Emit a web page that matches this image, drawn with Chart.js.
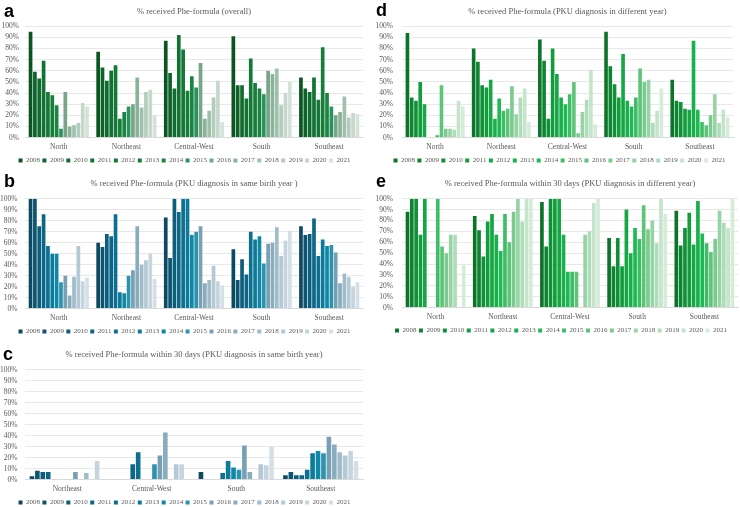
<!DOCTYPE html>
<html>
<head>
<meta charset="utf-8">
<script src="https://cdn.jsdelivr.net/npm/chart.js@4.4.1/dist/chart.umd.min.js"></script>
<style>
  body { margin: 0; background: #fff; width: 740px; height: 507px; position: relative; overflow: hidden; }
  canvas { position: absolute; }
  .tag { position: absolute; font: bold 18px 'Liberation Sans', Arial, sans-serif; line-height: 18px; color: #000; }
</style>
</head>
<body>
<canvas id="pa" width="370" height="174" style="left:0;top:0"></canvas>
<canvas id="pb" width="370" height="177" style="left:0;top:168px"></canvas>
<canvas id="pc" width="370" height="178" style="left:0;top:338px"></canvas>
<canvas id="pd" width="370" height="174" style="left:370px;top:0"></canvas>
<canvas id="pe" width="370" height="176" style="left:370px;top:168px"></canvas>
<div class="tag" style="left:4px;top:2px">a</div>
<div class="tag" style="left:4px;top:172px">b</div>
<div class="tag" style="left:3px;top:345px">c</div>
<div class="tag" style="left:376px;top:1px">d</div>
<div class="tag" style="left:376px;top:172px">e</div>
<script>
var years = ['2008', '2009', '2010', '2011', '2012', '2013', '2014', '2015', '2016', '2017', '2018', '2019', '2020', '2021'];
var regions = ['North', 'Northeast', 'Central-West', 'South', 'Southeast'];
var regionsC = ['Northeast', 'Central-West', 'South', 'Southeast'];

// one row per region, one value per year (%)
var overall = [
  [95, 59, 53, 69, 41, 38, 29, 8, 41, 10, 11, 13, 31, 28],
  [77, 63, 51, 60, 65, 17, 23, 28, 30, 54, 27, 41, 43, 20],
  [87, 58, 44, 92, 79, 42, 55, 45, 67, 17, 24, 36, 51, 14],
  [91, 47, 47, 35, 71, 49, 44, 39, 60, 57, 62, 29, 40, 50],
  [54, 44, 41, 54, 34, 81, 40, 28, 20, 23, 37, 18, 22, 21]
];
var sameYear = [
  [100, 100, 75, 86, 57, 50, 50, 24, 30, 12, 29, 57, 25, 28],
  [60, 56, 68, 66, 86, 15, 14, 30, 35, 75, 40, 44, 50, 27],
  [83, 46, 100, 88, 100, 100, 67, 70, 75, 23, 26, 39, 25, 21],
  [54, 26, 45, 31, 70, 63, 66, 41, 59, 60, 74, 48, 62, 71],
  [75, 67, 68, 82, 48, 63, 57, 58, 51, 23, 32, 29, 20, 24]
];
var sameYear30 = [
  [3, 8, 7, 7, null, null, null, null, 7, null, 6, null, 17, null],
  [null, null, null, 14, 25, null, null, 14, 22, 43, null, 14, 14, null],
  [7, null, null, null, 6, 17, 11, 9, 31, 7, null, 14, 13, 30],
  [4, 7, 4, 4, 9, 24, 26, 24, 39, 32, 25, 22, 26, 17]
];
var diffYear = [
  [94, 36, 33, 50, 30, null, null, 2, 47, 8, 8, 7, 33, 28],
  [80, 68, 47, 45, 52, 17, 35, 24, 26, 46, 21, 36, 44, 14],
  [88, 69, 17, 80, 57, 36, 30, 39, 50, 4, 23, 34, 61, 12],
  [95, 64, 48, 36, 75, 33, 28, 36, 62, 50, 52, 13, 24, 44],
  [52, 33, 32, 26, 25, 87, 25, 14, 11, 20, 39, 13, 25, 18]
];
var diffYear30 = [
  [88, 100, 100, 67, 100, null, null, 100, 56, 50, 67, 67, null, 39],
  [84, 71, 47, 79, 86, 67, 52, 86, 60, 88, 100, 79, 100, 100],
  [97, 56, 100, 100, 100, 67, 33, 33, 33, null, 67, 70, 96, 100],
  [64, 38, 64, 38, 90, 50, 73, 63, 94, 72, 80, 59, 100, 86],
  [89, 57, 73, 87, 58, 98, 68, 59, 51, 63, 89, 78, 73, 100]
];

var darkGreens = ['#0a5522', '#0d632a', '#106b2f', '#127233', '#147836', '#167d3a', '#1a8540', '#2a9160',
  '#76a587', '#8bb399', '#a0c0ab', '#b3cdbc', '#c5d8cb', '#d5e2d9'];
var blues = ['#0c4a61', '#0c5570', '#0c5e7c', '#0c6786', '#0d7090', '#0c7b99', '#0e88a6', '#2c93ae',
  '#77a0b2', '#8aadbd', '#a0bcc9', '#b3c9d4', '#c5d5de', '#d5e0e6'];
var brightGreens = ['#0b7428', '#0d8530', '#0f9237', '#129d3d', '#14a744', '#17b04a', '#1eb952', '#3dbe66',
  '#5ec47a', '#7bcb8e', '#97d4a5', '#afdcb9', '#c4e5cb', '#d5ecd9'];

var serif = "'Liberation Serif', 'Times New Roman', serif";
var grey = '#595959';

// nudge the legend sideways after layout
var legendShift = {
  id: 'legendShift',
  afterLayout: function(chart, args, opts) {
    if (opts.dx && chart.legend) {
      chart.legend.left += opts.dx;
      chart.legend.right += opts.dx;
    }
  }
};

function makeDatasets(rows, colors) {
  return years.map(function(y, i) {
    return {
      label: y,
      data: rows.map(function(r) { return r[i]; }),
      backgroundColor: colors[i],
      categoryPercentage: 0.9,
      barPercentage: 0.85
    };
  });
}

function makeOptions(title, p) {
  return {
    responsive: false,
    animation: false,
    layout: { padding: { left: 0, right: p.padRight, top: 0, bottom: 0 } },
    plugins: {
      title: {
        display: true, text: title, color: grey, fullSize: false,
        font: { family: serif, size: 8.5, weight: 'normal' },
        padding: { top: p.titleTop, bottom: p.titleBottom }
      },
      legend: {
        position: 'bottom',
        labels: { boxWidth: 4, boxHeight: 4, padding: 2.4, color: grey, font: { family: serif, size: 7 } }
      },
      legendShift: { dx: p.dx },
      tooltip: { enabled: false }
    },
    scales: {
      x: {
        grid: { display: false, drawTicks: false },
        border: { color: '#d9d9d9' },
        ticks: { color: grey, font: { family: serif, size: 7.5 }, padding: 5 },
        afterFit: function(s) { s.height -= 2; }
      },
      y: {
        min: 0, max: 100,
        grid: { color: '#e8e8e8', drawTicks: false },
        border: { display: false },
        ticks: { stepSize: 10, autoSkip: false, color: grey, font: { family: serif, size: 7.5 }, padding: p.yPad,
          callback: function(v) { return v + '%'; } },
        afterFit: function(s) { s.width = p.yWidth; }
      }
    }
  };
}

function drawPanel(id, labels, rows, colors, title, p) {
  new Chart(document.getElementById(id), {
    type: 'bar',
    data: { labels: labels, datasets: makeDatasets(rows, colors) },
    options: makeOptions(title, p),
    plugins: [legendShift]
  });
}

drawPanel('pa', regions, overall, darkGreens, '% received Phe-formula (overall)',
  { titleTop: 7, titleBottom: 9, yWidth: 25, yPad: 6, padRight: 7, dx: 3 });
drawPanel('pb', regions, sameYear, blues, '% received Phe-formula (PKU diagnosis in same birth year )',
  { titleTop: 11, titleBottom: 9.6, yWidth: 25, yPad: 7.5, padRight: 7, dx: 3 });
drawPanel('pc', regionsC, sameYear30, blues, '% received Phe-formula within 30 days (PKU diagnosis in same birth year)',
  { titleTop: 12, titleBottom: 9.6, yWidth: 25, yPad: 7.5, padRight: 7, dx: 3 });
drawPanel('pd', regions, diffYear, brightGreens, '% received Phe-formula (PKU diagnosis in different year)',
  { titleTop: 7, titleBottom: 9, yWidth: 32, yPad: 9, padRight: 7, dx: 8 });
drawPanel('pe', regions, diffYear30, brightGreens, '% received Phe-formula within 30 days (PKU diagnosis in different year)',
  { titleTop: 10.6, titleBottom: 9.9, yWidth: 32, yPad: 9, padRight: 2, dx: 7 });
</script>
</body>
</html>
